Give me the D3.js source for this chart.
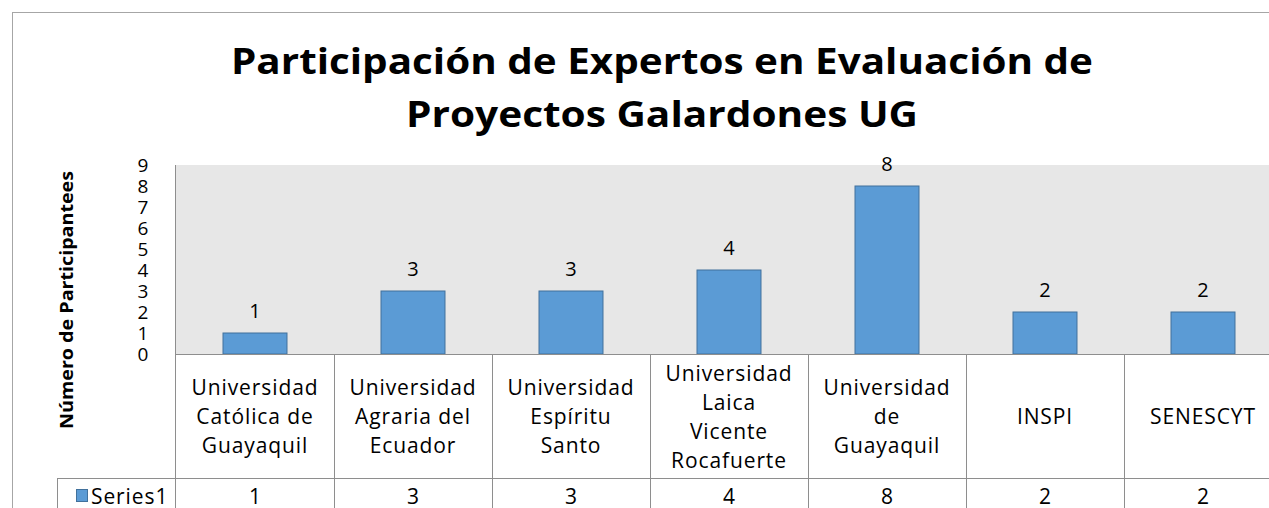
<!DOCTYPE html>
<html>
<head>
<meta charset="utf-8">
<script src="https://cdn.jsdelivr.net/npm/d3@7"></script>
<style>
  body { margin: 0; background: #fff; }
  svg { display: block; font-family: "Open Sans", sans-serif; }
</style>
</head>
<body>
<svg width="1269" height="508"></svg>
<script>
// data
const categories = [
    "Universidad Católica de Guayaquil",
    "Universidad Agraria del Ecuador",
    "Universidad Espíritu Santo",
    "Universidad Laica Vicente Rocafuerte",
    "Universidad de Guayaquil",
    "INSPI",
    "SENESCYT"
];
// how the labels wrap in the table
const categoryLines = [
    ["Universidad", "Católica de", "Guayaquil"],
    ["Universidad", "Agraria del", "Ecuador"],
    ["Universidad", "Espíritu", "Santo"],
    ["Universidad", "Laica", "Vicente", "Rocafuerte"],
    ["Universidad", "de", "Guayaquil"],
    ["INSPI"],
    ["SENESCYT"]
];
const values = [1, 3, 3, 4, 8, 2, 2];
const yTicks = [0, 1, 2, 3, 4, 5, 6, 7, 8, 9];
const seriesName = "Series1";
const titleLines = ["Participación de Expertos en Evaluación de", "Proyectos Galardones UG"];
const yTitle = "Número de Participantees";

const svg = d3.select("svg");
const plotLeft = 176, plotRight = 1282, plotTop = 165, plotBottom = 354;
const tableMid = 478, tableBottom = 520;
const gridColor = "#8e8e8e";

// outer chart border
svg.append("rect")
    .attr("x", 12.5).attr("y", 12.5)
    .attr("width", 1300).attr("height", 600)
    .attr("fill", "none")
    .attr("stroke", "#a6a6a6");

// title (the original font is wider, so stretch it a bit)
const titleWidths = [862, 512];
svg.append("g").selectAll("text")
    .data(titleLines)
    .enter().append("text")
    .attr("x", 662)
    .attr("y", (d, i) => 74 + i * 53)
    .attr("text-anchor", "middle")
    .attr("font-size", "36px")
    .attr("font-weight", "bold")
    .attr("textLength", (d, i) => titleWidths[i])
    .attr("lengthAdjust", "spacingAndGlyphs")
    .text(d => d);

const x = d3.scaleBand().domain(categories).range([plotLeft, plotRight]).padding(0);
const xBar = d3.scaleBand().domain(categories).range([plotLeft, plotRight])
    .paddingInner(0.595).paddingOuter(0.2975);
const y = d3.scaleLinear().domain([0, 9]).range([plotBottom, plotTop]);

// plot area
svg.append("rect")
    .attr("x", plotLeft).attr("y", plotTop)
    .attr("width", plotRight - plotLeft).attr("height", plotBottom - plotTop)
    .attr("fill", "#e7e7e7");

// y axis
const yAxis = svg.append("g")
    .attr("transform", "translate(" + plotLeft + ",0)")
    .call(d3.axisLeft(y).tickValues(yTicks).tickSize(0).tickPadding(33));
yAxis.select(".domain").remove();
yAxis.selectAll("text")
    .attr("font-size", "19px")
    .attr("font-family", "Open Sans, sans-serif")
    .attr("fill", "#000")
    .attr("text-anchor", "middle")
    .attr("dy", "0.36em");

svg.append("text")
    .attr("transform", "translate(73," + 300 + ") rotate(-90)")
    .attr("text-anchor", "middle")
    .attr("font-size", "17px")
    .attr("font-weight", "bold")
    .attr("textLength", 258)
    .attr("lengthAdjust", "spacingAndGlyphs")
    .text(yTitle);

// bars
svg.selectAll(".bar")
    .data(values)
    .enter().append("rect")
    .attr("class", "bar")
    .attr("x", (d, i) => xBar(categories[i]))
    .attr("y", d => y(d))
    .attr("width", xBar.bandwidth())
    .attr("height", d => plotBottom - y(d))
    .attr("fill", "#5b9bd5")
    .attr("stroke", "#41719c")
    .attr("stroke-width", 1);

// value labels
svg.selectAll(".lbl")
    .data(values)
    .enter().append("text")
    .attr("class", "lbl")
    .attr("x", (d, i) => x(categories[i]) + x.bandwidth() / 2)
    .attr("y", d => y(d) - 15)
    .attr("text-anchor", "middle")
    .attr("font-size", "20px")
    .text(d => d);

// data table grid
const grid = svg.append("g").attr("stroke", gridColor).attr("stroke-width", 1);
grid.append("line")
    .attr("x1", plotLeft).attr("x2", 1269)
    .attr("y1", plotBottom + 0.5).attr("y2", plotBottom + 0.5);
grid.append("line")
    .attr("x1", 57).attr("x2", 1269)
    .attr("y1", tableMid + 0.5).attr("y2", tableMid + 0.5);
grid.append("line")
    .attr("x1", 57.5).attr("x2", 57.5)
    .attr("y1", tableMid).attr("y2", tableBottom);
grid.append("line")
    .attr("x1", plotLeft - 0.5).attr("x2", plotLeft - 0.5)
    .attr("y1", plotTop).attr("y2", tableBottom);
grid.selectAll(".vline")
    .data(categories.slice(1))
    .enter().append("line")
    .attr("class", "vline")
    .attr("x1", d => Math.round(x(d)) + 0.5)
    .attr("x2", d => Math.round(x(d)) + 0.5)
    .attr("y1", plotBottom).attr("y2", tableBottom);

// category labels
const lineH = 29;
const catG = svg.selectAll(".cat")
    .data(categories)
    .enter().append("text")
    .attr("class", "cat")
    .attr("text-anchor", "middle")
    .attr("font-size", "21px")
    .attr("letter-spacing", "0.9px");
catG.each(function (d, i) {
    const lines = categoryLines[i];
    const cx = x(d) + x.bandwidth() / 2;
    const y0 = (plotBottom + tableMid) / 2 - (lines.length - 1) * lineH / 2 + 8;
    d3.select(this).selectAll("tspan")
        .data(lines)
        .enter().append("tspan")
        .attr("x", cx)
        .attr("y", (l, j) => y0 + j * lineH)
        .text(l => l);
});

// values row
svg.selectAll(".val")
    .data(values)
    .enter().append("text")
    .attr("class", "val")
    .attr("x", (d, i) => x(categories[i]) + x.bandwidth() / 2)
    .attr("y", 504)
    .attr("text-anchor", "middle")
    .attr("font-size", "21px")
    .text(d => d);

// legend key in the table
svg.append("rect")
    .attr("x", 76.5).attr("y", 489.5)
    .attr("width", 11).attr("height", 12)
    .attr("fill", "#5b9bd5")
    .attr("stroke", "#41719c");
svg.append("text")
    .attr("x", 91).attr("y", 504)
    .attr("font-size", "21px")
    .attr("letter-spacing", "0.9px")
    .text(seriesName);
</script>
</body>
</html>
